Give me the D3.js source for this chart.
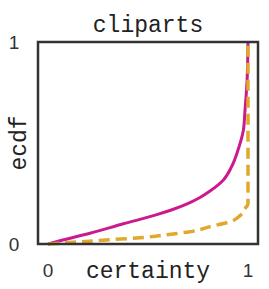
<html lang="en">
<head>
<meta charset="UTF-8">
<title>cliparts ecdf</title>
<style>
  body { margin: 0; background: #fff; }
</style>
</head>
<body>
<script src="https://d3js.org/d3.v7.min.js"></script>
<script>
  // magenta solid series
  let certA = [0, 0.06, 0.21, 0.377, 0.54, 0.627, 0.71, 0.76, 0.81, 0.877, 0.918, 0.95, 0.977, 0.985, 0.995, 1.0]
  let ecdfA = [0, 0.016, 0.053, 0.1, 0.144, 0.172, 0.205, 0.23, 0.262, 0.317, 0.383, 0.465, 0.564, 0.663, 0.8, 1.0]
  // orange dashed series
  let certB = [0, 0.09, 0.29, 0.46, 0.627, 0.71, 0.81, 0.91, 0.96, 0.985, 1.0, 1.0]
  let ecdfB = [0, 0.006, 0.02, 0.031, 0.05, 0.061, 0.086, 0.11, 0.14, 0.175, 0.2, 1.0]
  let xTicks = [0, 1]
  let yTicks = [0, 1]

  let width = 269
  let height = 289
  let plotL = 38, plotR = 258, plotT = 42, plotB = 244

  let svg = d3.select("body").append("svg")
              .attr("width", width)
              .attr("height", height)

  let x = d3.scaleLinear().domain([-0.05, 1.05]).range([plotL, plotR])
  let y = d3.scaleLinear().domain([0, 1]).range([plotB, plotT])

  let line = d3.line()
               .x(function(d) { return x(d[0]) })
               .y(function(d) { return y(d[1]) })
               .curve(d3.curveMonotoneY)

  svg.append("path")
     .attr("d", line(d3.zip(certA, ecdfA)))
     .attr("fill", "none")
     .attr("stroke", "#cc1a8e")
     .attr("stroke-width", 3)

  svg.append("path")
     .attr("d", line(d3.zip(certB, ecdfB)))
     .attr("fill", "none")
     .attr("stroke", "#e0a82c")
     .attr("stroke-width", 3.5)
     .attr("stroke-dasharray", "11,6")

  // frame
  svg.append("rect")
     .attr("x", plotL).attr("y", plotT)
     .attr("width", plotR - plotL).attr("height", plotB - plotT)
     .attr("fill", "none")
     .attr("stroke", "#333")
     .attr("stroke-width", 2.5)

  let tickFont = "'Liberation Sans', sans-serif"
  let labelFont = "'Liberation Mono', monospace"

  svg.selectAll(".xt").data(xTicks).enter().append("text")
     .attr("x", function(d) { return x(d) })
     .attr("y", 277)
     .attr("text-anchor", "middle")
     .style("font-family", tickFont).style("font-size", "19px").style("fill", "#333")
     .text(function(d) { return d })

  svg.selectAll(".yt").data(yTicks).enter().append("text")
     .attr("x", 14)
     .attr("y", function(d) { return y(d) + 7 })
     .attr("text-anchor", "middle")
     .style("font-family", tickFont).style("font-size", "19px").style("fill", "#333")
     .text(function(d) { return d })

  svg.append("text")
     .attr("x", (plotL + plotR) / 2).attr("y", 32)
     .attr("text-anchor", "middle")
     .style("font-family", labelFont).style("font-size", "23px").style("fill", "#222")
     .text("cliparts")

  svg.append("text")
     .attr("x", (plotL + plotR) / 2).attr("y", 278)
     .attr("text-anchor", "middle")
     .style("font-family", labelFont).style("font-size", "23px").style("fill", "#222")
     .text("certainty")

  svg.append("text")
     .attr("transform", "translate(26," + ((plotT + plotB) / 2) + ") rotate(-90)")
     .attr("text-anchor", "middle")
     .style("font-family", labelFont).style("font-size", "23px").style("fill", "#222")
     .text("ecdf")
</script>
</body>
</html>
